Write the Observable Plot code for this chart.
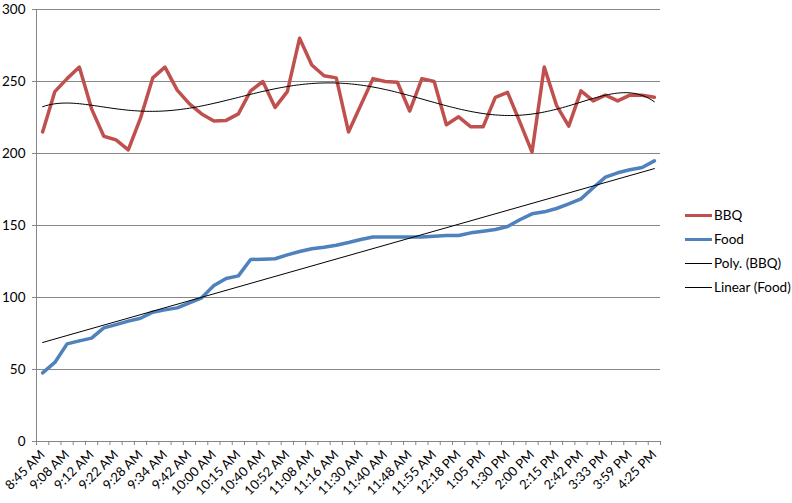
<!DOCTYPE html>
<html><head><meta charset="utf-8">
<script src="https://cdn.jsdelivr.net/npm/d3@7"></script>
<script src="https://cdn.jsdelivr.net/npm/@observablehq/plot@0.6"></script>
<style>
body{margin:0;background:#fff;font-family:Lato, sans-serif;}
#wrap{position:relative;width:792px;height:503px;}
#legend{position:absolute;left:685px;top:203px;font:13.5px Lato, sans-serif;color:#000;}
.item{display:flex;align-items:center;height:24px;}
.sw{width:27px;margin-right:2px;}
</style></head><body><div id="wrap"><div id="legend"></div></div>
<script>
// Category tick labels (every second category is labelled)
const tickLabels = ["8:45 AM","9:08 AM","9:12 AM","9:22 AM","9:28 AM","9:34 AM","9:42 AM","10:00 AM","10:15 AM","10:40 AM","10:52 AM","11:08 AM","11:16 AM","11:30 AM","11:40 AM","11:48 AM","11:55 AM","12:18 PM","1:05 PM","1:30 PM","2:00 PM","2:15 PM","2:42 PM","3:33 PM","3:59 PM","4:25 PM"];
// Series values (51 categories)
const bbq = [215,243,252,260,231,212,209.5,202.5,224.5,252.5,260,244,234.5,227.5,222.5,223,227.5,243.5,250,232,243,280,261.5,254,252.5,215,233.5,252,250,249.5,229.5,252,250,220,225.5,218.5,218.5,239,242.5,222,201,260,233.5,219,243.5,236.5,240.5,236.5,240.5,240.5,239];
const food = [47.7,54.9,67.8,69.9,71.8,78.9,81.2,83.6,85.6,89.8,91.4,92.8,96.3,99.8,108.3,113.2,115,126.4,126.6,126.9,129.6,131.9,133.8,134.9,136.3,138.2,140.3,142,142,142,142,142,142.5,143,143,144.9,146,147.2,149.3,154,158.1,159.5,161.8,165,168.5,176.2,183.6,186.6,188.7,190.3,194.9];
const yTicks = [0,50,100,150,200,250,300];
const seriesNames = ["BBQ","Food","Poly. (BBQ)","Linear (Food)"];
const seriesColors = ["#C0504D","#4F81BD","#000000","#000000"];

const n = bbq.length;
const idx = d3.range(n);

// Excel-style trendlines: polynomial (order 6) for BBQ, linear for Food
function polyfit(xs, ys, deg){
  const m = deg+1;
  const A = Array.from({length:m},()=>new Array(m).fill(0));
  const b = new Array(m).fill(0);
  for(let k=0;k<xs.length;k++){
    const p=[]; for(let j=0;j<m;j++) p.push(Math.pow(xs[k],j));
    for(let r=0;r<m;r++){ b[r]+=p[r]*ys[k]; for(let c=0;c<m;c++) A[r][c]+=p[r]*p[c]; }
  }
  for(let c=0;c<m;c++){
    let piv=c; for(let r=c+1;r<m;r++) if(Math.abs(A[r][c])>Math.abs(A[piv][c])) piv=r;
    [A[c],A[piv]]=[A[piv],A[c]]; [b[c],b[piv]]=[b[piv],b[c]];
    for(let r=c+1;r<m;r++){ const f=A[r][c]/A[c][c]; for(let k=c;k<m;k++) A[r][k]-=f*A[c][k]; b[r]-=f*b[c]; }
  }
  const coef=new Array(m).fill(0);
  for(let r=m-1;r>=0;r--){ let s=b[r]; for(let k=r+1;k<m;k++) s-=A[r][k]*coef[k]; coef[r]=s/A[r][r]; }
  return t=>coef.reduce((s,c,j)=>s+c*Math.pow(t,j),0);
}
const norm = i => (i-(n-1)/2)/((n-1)/2);
const polyF = polyfit(idx.map(norm), bbq, 6);
const linF = polyfit(idx.map(norm), food, 1);
const fine = d3.range(0, n-1+1e-9, 0.25);
const polyData = fine.map(i=>({i, v: polyF(norm(i))}));
const linData = [0, n-1].map(i=>({i, v: linF(norm(i))}));

const boundaries = d3.range(-0.5, n, 1);
const labelIdx = d3.range(0, n, 2);

const chart = Plot.plot({
  width: 792, height: 503,
  marginLeft: 36, marginRight: 132, marginTop: 9, marginBottom: 62,
  style: {fontFamily: "Lato, sans-serif", fontSize: "13px", color: "#000", background: "#fff"},
  x: {type: "linear", domain: [-0.5, n-0.5]},
  y: {domain: [0, 300]},
  marks: [
    Plot.gridY(yTicks, {stroke: "#868686", strokeOpacity: 1}),
    Plot.ruleX([-0.5], {stroke: "#868686"}),
    Plot.ruleY([0], {stroke: "#868686"}),
    Plot.axisY(yTicks, {tickSize: 4, tickPadding: 7, stroke: "#868686", label: null, fill: "#000", fontSize: 13.5}),
    Plot.axisX(boundaries, {tickSize: 4, tickFormat: () => "", stroke: "#868686", label: null}),
    Plot.axisX(labelIdx, {tickSize: 0, tickRotate: -45, tickPadding: 11, tickFormat: i => tickLabels[i/2], label: null, fill: "#000", fontSize: 13}),
    Plot.line(idx, {x: i => i, y: i => bbq[i], stroke: seriesColors[0], strokeWidth: 3.5, strokeLinejoin: "round"}),
    Plot.line(idx, {x: i => i, y: i => food[i], stroke: seriesColors[1], strokeWidth: 3.5, strokeLinejoin: "round"}),
    Plot.line(polyData, {x: "i", y: "v", stroke: seriesColors[2], strokeWidth: 1}),
    Plot.line(linData, {x: "i", y: "v", stroke: seriesColors[3], strokeWidth: 1})
  ]
});
const wrap = document.getElementById("wrap");
wrap.insertBefore(chart, wrap.firstChild);

const legend = document.getElementById("legend");
seriesNames.forEach((name, k) => {
  const item = document.createElement("div"); item.className = "item";
  const sw = document.createElement("div"); sw.className = "sw";
  sw.style.borderTop = (k < 2 ? 3.5 : 1) + "px solid " + seriesColors[k];
  const t = document.createElement("span"); t.textContent = name;
  item.appendChild(sw); item.appendChild(t); legend.appendChild(item);
});
</script></body></html>
